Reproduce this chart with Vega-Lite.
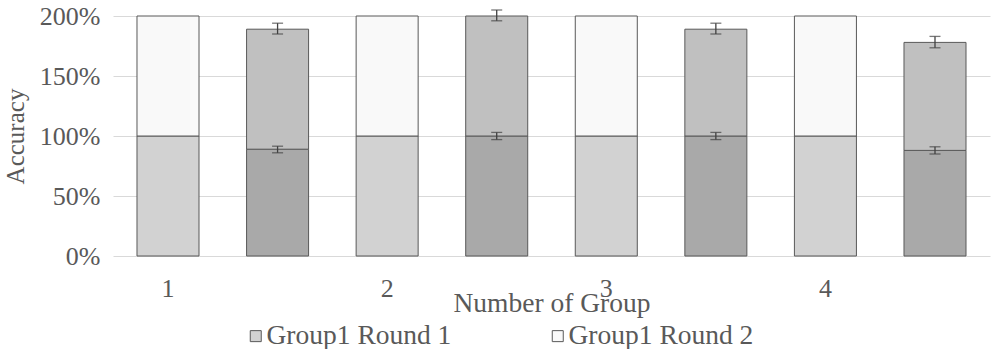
{
  "$schema": "https://vega.github.io/schema/vega-lite/v6.json",
  "autosize": {"type": "none"},
  "width": 877,
  "height": 240,
  "padding": {"left": 113, "top": 16, "right": 5, "bottom": 93},
  "background": "white",
  "config": {
    "view": {"stroke": null},
    "font": "Times New Roman, Liberation Serif, DejaVu Serif, serif",
    "axis": {"labelFont": "Times New Roman, Liberation Serif, serif", "titleFont": "Times New Roman, Liberation Serif, serif", "labelColor": "#595959", "titleColor": "#595959", "titleFontWeight": "normal"},
    "legend": {"labelFont": "Times New Roman, Liberation Serif, serif", "labelColor": "#595959"}
  },
  "datasets": {
    "bars": [
      {"bar": 1, "series": "Group1 Round 1", "value": 1.0},
      {"bar": 1, "series": "Group1 Round 2", "value": 1.0},
      {"bar": 2, "series": "Group2 Round 1", "value": 0.89},
      {"bar": 2, "series": "Group2 Round 2", "value": 1.0},
      {"bar": 3, "series": "Group1 Round 1", "value": 1.0},
      {"bar": 3, "series": "Group1 Round 2", "value": 1.0},
      {"bar": 4, "series": "Group2 Round 1", "value": 1.0},
      {"bar": 4, "series": "Group2 Round 2", "value": 1.0},
      {"bar": 5, "series": "Group1 Round 1", "value": 1.0},
      {"bar": 5, "series": "Group1 Round 2", "value": 1.0},
      {"bar": 6, "series": "Group2 Round 1", "value": 1.0},
      {"bar": 6, "series": "Group2 Round 2", "value": 0.89},
      {"bar": 7, "series": "Group1 Round 1", "value": 1.0},
      {"bar": 7, "series": "Group1 Round 2", "value": 1.0},
      {"bar": 8, "series": "Group2 Round 1", "value": 0.88},
      {"bar": 8, "series": "Group2 Round 2", "value": 0.9}
    ],
    "errors": [
      {"bar": 2, "lo": 0.86, "hi": 0.915},
      {"bar": 2, "lo": 1.85, "hi": 1.94},
      {"bar": 4, "lo": 0.97, "hi": 1.03},
      {"bar": 4, "lo": 1.96, "hi": 2.05},
      {"bar": 6, "lo": 0.97, "hi": 1.03},
      {"bar": 6, "lo": 1.85, "hi": 1.94},
      {"bar": 8, "lo": 0.85, "hi": 0.91},
      {"bar": 8, "lo": 1.735, "hi": 1.83}
    ]
  },
  "encoding": {
    "x": {
      "field": "bar",
      "type": "ordinal",
      "scale": {"paddingInner": 0.434, "paddingOuter": 0.219},
      "axis": {
        "title": "Number of Group",
        "labelExpr": "datum.value % 2 == 1 ? (datum.value + 1) / 2 : ''",
        "labelAngle": 0,
        "labelFontSize": 26,
        "labelPadding": 19,
        "titleFontSize": 27.5,
        "titleY": 55,
        "titleBaseline": "alphabetic",
        "domain": false,
        "ticks": false,
        "grid": false
      }
    }
  },
  "layer": [
    {
      "data": {"name": "bars"},
      "mark": {"type": "bar", "stroke": "#595959", "strokeWidth": 1},
      "encoding": {
        "y": {
          "field": "value",
          "type": "quantitative",
          "stack": "zero",
          "scale": {"domain": [0, 2]},
          "axis": {
            "title": "Accuracy",
            "values": [0, 0.5, 1, 1.5, 2],
            "format": ".0%",
            "labelFontSize": 26,
            "labelPadding": 13,
            "titleFontSize": 25,
            "titleX": -90,
            "titleBaseline": "alphabetic",
            "domain": false,
            "ticks": false,
            "gridColor": "#d9d9d9",
            "gridWidth": 1
          }
        },
        "color": {
          "field": "series",
          "type": "nominal",
          "scale": {
            "domain": ["Group1 Round 1", "Group1 Round 2", "Group2 Round 1", "Group2 Round 2"],
            "range": ["#d2d2d2", "#f9f9f9", "#a9a9a9", "#c0c0c0"]
          },
          "legend": {
            "title": null,
            "orient": "none",
            "legendX": 129,
            "legendY": 306,
            "direction": "horizontal",
            "columns": 2,
            "columnPadding": 92,
            "symbolType": "square",
            "symbolSize": 121,
            "symbolStrokeColor": "#595959",
            "symbolStrokeWidth": 1,
            "symbolOpacity": 1,
            "labelFont": "Times New Roman, Liberation Serif, serif",
            "labelColor": "#595959",
            "labelFontSize": 27.5,
            "labelOffset": -3,
            "labelLimit": 400
          }
        },
        "order": {"field": "series", "sort": "ascending"}
      }
    },
    {
      "data": {"name": "errors"},
      "mark": {"type": "rule", "color": "#404040", "strokeWidth": 1.3},
      "encoding": {
        "y": {"field": "lo", "type": "quantitative"},
        "y2": {"field": "hi"}
      }
    },
    {
      "data": {"name": "errors"},
      "mark": {"type": "tick", "color": "#404040", "thickness": 1.3, "size": 11, "orient": "horizontal"},
      "encoding": {
        "y": {"field": "lo", "type": "quantitative"}
      }
    },
    {
      "data": {"name": "errors"},
      "mark": {"type": "tick", "color": "#404040", "thickness": 1.3, "size": 11, "orient": "horizontal"},
      "encoding": {
        "y": {"field": "hi", "type": "quantitative"}
      }
    }
  ]
}
